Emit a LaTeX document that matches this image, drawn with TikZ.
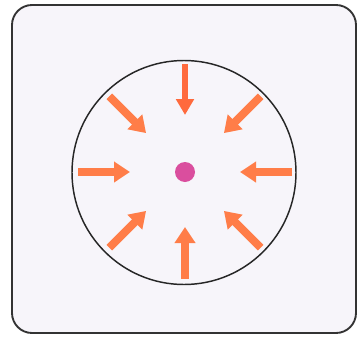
\documentclass[tikz,border=0pt]{standalone}
\usetikzlibrary{arrows.meta}

\definecolor{pushorange}{RGB}{255,125,72}
\definecolor{coremagenta}{RGB}{218,78,158}
\definecolor{cardfill}{RGB}{247,245,250}

\begin{document}
\begin{tikzpicture}[
  x=0.75pt, y=-0.75pt,
  card/.style={draw=black!80, line width=1.4pt, fill=cardfill, rounded corners=15pt},
  rim/.style={circle, draw=black!85, line width=1.1pt, minimum size=168pt, inner sep=0pt},
  core/.style={circle, fill=coremagenta, minimum size=15pt, inner sep=0pt},
  push/.style={-{Triangle[width=15pt, length=12pt]}, line width=6pt, draw=pushorange}
]
  \useasboundingbox (0,0) rectangle (357,336);
  \draw[card] (12,5) rectangle (356,333);

  \node[rim] (sphere) at (184,172.5) {};
  \node[core] (dot) at (185,172) {};

  % inward pushes (y points down, so 270 is the top one)
  \foreach \a in {0,45,90,135,180,225,315} {
    \coordinate (out\a) at ([shift={(\a:107)}]dot.center);
    \coordinate (in\a) at ([shift={(\a:55)}]dot.center);
    \draw[push] (out\a) -- (in\a);
  }
  \coordinate (out270) at ([shift={(270:108)}]dot.center);
  \coordinate (in270) at ([shift={(270:57)}]dot.center);
  \draw[push, draw=pushorange!85!red, line width=5pt,
    -{Triangle[width=13pt, length=12pt]}] (out270) -- (in270);
\end{tikzpicture}
\end{document}
